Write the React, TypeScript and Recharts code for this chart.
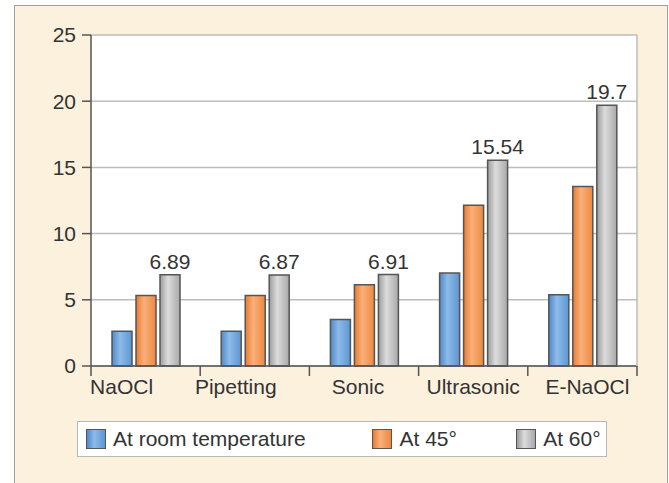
import { BarChart, Bar, XAxis, YAxis, CartesianGrid, LabelList } from 'recharts';

const categories = ['NaOCl', 'Pipetting', 'Sonic', 'Ultrasonic', 'E-NaOCl'];
const roomTemp = [2.63, 2.63, 3.52, 7.02, 5.38];
const at45 = [5.32, 5.32, 6.14, 12.14, 13.56];
const at60 = [6.89, 6.87, 6.91, 15.54, 19.7];
const yTicks = [0, 5, 10, 15, 20, 25];

const seriesNames = ['At room temperature', 'At 45°', 'At 60°'];

const data = categories.map((name, i) => ({
  name,
  room: roomTemp[i],
  a45: at45[i],
  a60: at60[i],
}));

const FONT = 'Liberation Sans, Arial, sans-serif';
const TEXT = '#333';
const AXIS = '#555';
const TICK_MARGIN = 13;
// the original's category labels drift a bit from their group centres
const LABEL_SHIFT = [-24, -19, -6, 0, 5];

// category label plus the tick marks that sit between the groups
function CategoryTick(props: any) {
  const { x, y, payload, index, visibleTicksCount } = props;
  const half = payload?.offset || 54.6;
  const axisY = y - TICK_MARGIN;
  const last = index === (visibleTicksCount ?? categories.length) - 1;
  return (
    <g>
      <line x1={x - half} x2={x - half} y1={axisY} y2={axisY + 10} stroke={AXIS} strokeWidth={1.5} />
      {last && (
        <line x1={x + half} x2={x + half} y1={axisY} y2={axisY + 10} stroke={AXIS} strokeWidth={1.5} />
      )}
      <text
        x={x + (LABEL_SHIFT[index] ?? 0)}
        y={y}
        dy="0.71em"
        textAnchor="middle"
        fill={TEXT}
        fontSize={21}
        fontFamily={FONT}
      >
        {payload.value}
      </text>
    </g>
  );
}

function LegendBox() {
  const items = [
    { label: seriesNames[0], swatch: 'linear-gradient(90deg,#4f88c9,#8dbbe9 40%,#5d96d2)', width: 287 },
    { label: seriesNames[1], swatch: 'linear-gradient(90deg,#ea7a30,#f9b07a 40%,#ee8840)', width: 144 },
    { label: seriesNames[2], swatch: 'linear-gradient(90deg,#9c9c9c,#dcdcdc 40%,#a8a8a8)', width: 90 },
  ];
  return (
    <div
      style={{
        position: 'absolute',
        left: 77,
        top: 421,
        display: 'flex',
        alignItems: 'center',
        width: 530,
        height: 36,
        background: '#fff',
        border: '1px solid #b8b8b8',
        fontFamily: FONT,
        fontSize: 21,
        color: TEXT,
        boxSizing: 'border-box',
        paddingLeft: 8,
      }}
    >
      {items.map((it) => (
        <div key={it.label} style={{ display: 'flex', alignItems: 'center', width: it.width }}>
          <span
            style={{
              display: 'inline-block',
              width: 18,
              height: 18,
              background: it.swatch,
              border: '1px solid #555',
              marginRight: 7,
            }}
          />
          <span>{it.label}</span>
        </div>
      ))}
    </div>
  );
}

export default function App() {
  return (
    <div style={{ position: 'fixed', left: 0, top: 0, width: 669, height: 483, background: '#fff' }}>
      <div
        style={{
          position: 'absolute',
          left: 14,
          top: 5,
          width: 652,
          height: 485,
          background: '#fcf1dd',
          border: '1px solid #a0a0a0',
        }}
      />
      <div style={{ position: 'absolute', left: 0, top: 0 }}>
        <BarChart
          width={669}
          height={483}
          data={data}
          margin={{ top: 35, right: 31, left: 30, bottom: 76 }}
          barCategoryGap={20}
          barGap={4}
        >
          <defs>
            <linearGradient id="gBlue" x1="0" y1="0" x2="1" y2="0">
              <stop offset="0%" stopColor="#4f88c9" />
              <stop offset="40%" stopColor="#8dbbe9" />
              <stop offset="100%" stopColor="#5d96d2" />
            </linearGradient>
            <linearGradient id="gOrange" x1="0" y1="0" x2="1" y2="0">
              <stop offset="0%" stopColor="#ea7a30" />
              <stop offset="40%" stopColor="#f9b07a" />
              <stop offset="100%" stopColor="#ee8840" />
            </linearGradient>
            <linearGradient id="gGray" x1="0" y1="0" x2="1" y2="0">
              <stop offset="0%" stopColor="#9c9c9c" />
              <stop offset="40%" stopColor="#dcdcdc" />
              <stop offset="100%" stopColor="#a8a8a8" />
            </linearGradient>
          </defs>
          <CartesianGrid vertical={false} stroke="#bdbdbd" strokeWidth={1.5} fill="#fff" />
          <XAxis
            dataKey="name"
            tickLine={false}
            axisLine={{ stroke: AXIS, strokeWidth: 1.5 }}
            tickSize={0}
            tickMargin={TICK_MARGIN}
            interval={0}
            tick={<CategoryTick />}
            height={41}
          />
          <YAxis
            domain={[0, 25]}
            ticks={yTicks}
            width={61}
            tick={{ fill: TEXT, fontSize: 21, fontFamily: FONT }}
            tickLine={{ stroke: AXIS, strokeWidth: 1.5 }}
            tickSize={9}
            tickMargin={6}
            axisLine={{ stroke: AXIS, strokeWidth: 1.5 }}
          />
          <YAxis
            yAxisId="frame"
            orientation="right"
            domain={[0, 25]}
            width={1}
            tick={false}
            tickLine={false}
            axisLine={{ stroke: '#bdbdbd', strokeWidth: 1.5 }}
          />
          <Bar dataKey="room" name={seriesNames[0]} fill="url(#gBlue)" stroke={AXIS} strokeWidth={1.5} barSize={20} isAnimationActive={false} />
          <Bar dataKey="a45" name={seriesNames[1]} fill="url(#gOrange)" stroke={AXIS} strokeWidth={1.5} barSize={20} isAnimationActive={false} />
          <Bar dataKey="a60" name={seriesNames[2]} fill="url(#gGray)" stroke={AXIS} strokeWidth={1.5} barSize={20} isAnimationActive={false}>
            <LabelList dataKey="a60" position="top" offset={6} fill={TEXT} fontSize={21} fontFamily={FONT} />
          </Bar>
        </BarChart>
      </div>
      <LegendBox />
    </div>
  );
}
